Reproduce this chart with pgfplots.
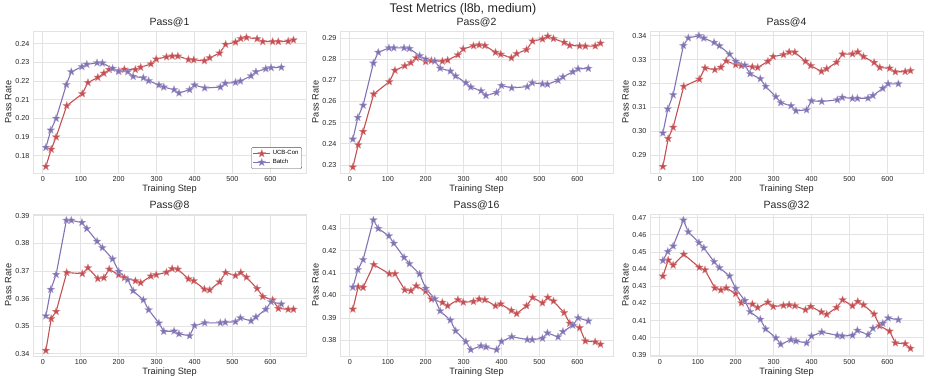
\documentclass[border=0pt]{standalone}
\usepackage{pgfplots}
\pgfplotsset{compat=1.18}
\usepackage{fontspec}
\setmainfont{Liberation Sans}
\definecolor{ucb}{HTML}{C44E52}
\definecolor{bat}{HTML}{8172B3}
\definecolor{gridc}{HTML}{E3E3E3}
\definecolor{txt}{HTML}{262626}

% filled five-pointed star
\pgfdeclareplotmark{fstar}{%
  \pgfpathmoveto{\pgfpointpolar{90}{\pgfplotmarksize}}%
  \pgfpathlineto{\pgfpointpolar{126}{0.42\pgfplotmarksize}}%
  \pgfpathlineto{\pgfpointpolar{162}{\pgfplotmarksize}}%
  \pgfpathlineto{\pgfpointpolar{198}{0.42\pgfplotmarksize}}%
  \pgfpathlineto{\pgfpointpolar{234}{\pgfplotmarksize}}%
  \pgfpathlineto{\pgfpointpolar{270}{0.42\pgfplotmarksize}}%
  \pgfpathlineto{\pgfpointpolar{306}{\pgfplotmarksize}}%
  \pgfpathlineto{\pgfpointpolar{342}{0.42\pgfplotmarksize}}%
  \pgfpathlineto{\pgfpointpolar{18}{\pgfplotmarksize}}%
  \pgfpathlineto{\pgfpointpolar{54}{0.42\pgfplotmarksize}}%
  \pgfpathclose
  \pgfusepathqfillstroke}

\pgfplotsset{
  panel/.style={
    scale only axis, width=273pt, height=142pt,
    xmin=-26, xmax=694, xtick={0,100,...,600},
    grid=major, major grid style={gridc, line width=0.8pt},
    axis line style={gridc, line width=0.8pt},
    tick style={draw=none},
    tick label style={font=\fontsize{7.2}{8}\selectfont, text=txt},
    /pgf/number format/assume math mode=true,
    yticklabel style={/pgf/number format/.cd, fixed, fixed zerofill, precision=2},
    label style={font=\fontsize{9.2}{10}\selectfont, text=txt},
    xlabel={Training Step}, ylabel={Pass Rate},
    xlabel style={yshift=4pt}, ylabel style={yshift=-3pt},
    title style={font=\fontsize{10.5}{12}\selectfont, text=txt, yshift=-5pt},
    legend style={font=\fontsize{6}{7}\selectfont, draw=black!70, rounded corners=1pt,
      at={(0.985,0.03)}, anchor=south east, inner sep=1.2pt, row sep=-1pt},
    legend cell align=left,
  },
  ucbline/.style={ucb, line width=1.1pt, mark=fstar, mark size=4.1pt,
    mark options={fill=ucb, draw=ucb!60, line width=0.3pt}},
  batline/.style={bat, line width=1.1pt, mark=fstar, mark size=4.1pt,
    mark options={fill=bat, draw=bat!60, line width=0.3pt}},
}

\begin{document}
\begin{tikzpicture}
\useasboundingbox (0pt,0pt) rectangle (927pt,382pt);
\node[font=\fontsize{12.5}{14}\selectfont, text=txt] at (463pt,373pt) {Test Metrics (l8b, medium)};

% Pass@1
\begin{axis}[panel, at={(33pt,209pt)}, anchor=south west, title={Pass@1},
  ymin=0.1707, ymax=0.2469, ytick={0.18,0.19,...,0.245}]
\addplot[ucbline] coordinates {(8,0.1742) (22,0.1834) (35,0.190) (63,0.2068) (104,0.2132) (119,0.2192) (145,0.222) (161,0.2242) (175,0.2262) (200,0.2255) (215,0.2263) (244,0.2262) (258,0.2274) (285,0.2292) (299,0.2318) (326,0.233) (341,0.2334) (356,0.2334) (384,0.2316) (398,0.2314) (426,0.2309) (440,0.2325) (466,0.235) (482,0.2397) (508,0.2409) (522,0.2428) (537,0.2434) (565,0.2427) (580,0.2412) (606,0.2412) (621,0.2412) (647,0.2414) (661,0.2421)};
\addlegendentry{UCB-Con}
\addplot[batline] coordinates {(8,0.1844) (21,0.1937) (35,0.200) (62,0.2181) (75,0.2250) (103,0.2277) (116,0.229) (143,0.2298) (157,0.2297) (184,0.2268) (200,0.2252) (224,0.2250) (238,0.2225) (265,0.2218) (279,0.2202) (306,0.2179) (319,0.2168) (346,0.2154) (359,0.2136) (387,0.2154) (400,0.2179) (427,0.2163) (468,0.2168) (481,0.2188) (508,0.2193) (521,0.220) (549,0.2228) (562,0.225) (588,0.2266) (602,0.2272) (629,0.2274)};
\addlegendentry{Batch}
\end{axis}

% Pass@2
\begin{axis}[panel, at={(340pt,209pt)}, anchor=south west, title={Pass@2},
  ymin=0.2262, ymax=0.2933, ytick={0.23,0.24,...,0.295}]
\addplot[ucbline] coordinates {(8,0.2290) (22,0.2395) (35,0.2458) (63,0.2635) (104,0.2693) (119,0.2747) (145,0.2768) (161,0.2783) (175,0.2806) (200,0.2788) (215,0.2793) (244,0.279) (258,0.2795) (285,0.282) (299,0.2848) (326,0.2863) (341,0.2867) (356,0.2864) (384,0.2832) (398,0.2823) (426,0.2806) (440,0.2826) (466,0.2845) (482,0.2885) (508,0.2895) (522,0.2908) (537,0.2897) (565,0.2879) (580,0.2865) (606,0.2862) (621,0.2861) (647,0.2862) (661,0.2875)};
\addplot[batline] coordinates {(8,0.2422) (21,0.2524) (35,0.2582) (62,0.2781) (75,0.2832) (103,0.2853) (116,0.2853) (143,0.2853) (157,0.2850) (184,0.2816) (200,0.280) (224,0.2791) (238,0.2757) (265,0.2743) (279,0.272) (306,0.2688) (319,0.2668) (346,0.2650) (359,0.2628) (387,0.2642) (400,0.2675) (427,0.2664) (468,0.267) (481,0.2688) (508,0.2683) (521,0.2681) (549,0.2700) (562,0.2716) (588,0.274) (602,0.2754) (629,0.2756)};
\end{axis}

% Pass@4
\begin{axis}[panel, at={(650pt,209pt)}, anchor=south west, title={Pass@4},
  ymin=0.2826, ymax=0.342, ytick={0.29,0.30,...,0.345}]
\addplot[ucbline] coordinates {(8,0.2853) (22,0.2970) (35,0.3017) (63,0.3188) (104,0.3218) (119,0.3265) (145,0.3258) (161,0.3268) (175,0.3295) (200,0.3279) (215,0.3275) (244,0.327) (258,0.3267) (285,0.3293) (299,0.3313) (326,0.3321) (341,0.3332) (356,0.3331) (384,0.3293) (398,0.3275) (426,0.3251) (440,0.3262) (466,0.3289) (482,0.3323) (508,0.3324) (522,0.3332) (537,0.3313) (565,0.3288) (580,0.3267) (606,0.3264) (621,0.3249) (647,0.325) (661,0.3254)};
\addplot[batline] coordinates {(8,0.2993) (21,0.3094) (35,0.3153) (62,0.3359) (75,0.3391) (103,0.340) (116,0.339) (143,0.3372) (157,0.3358) (184,0.3323) (200,0.3293) (224,0.3277) (238,0.3241) (265,0.322) (279,0.3188) (306,0.3145) (319,0.312) (346,0.3107) (359,0.3086) (387,0.309) (400,0.3128) (427,0.3125) (468,0.3132) (481,0.3142) (508,0.3138) (521,0.3138) (549,0.3139) (562,0.315) (588,0.318) (602,0.3199) (629,0.3199)};
\end{axis}

% Pass@8
\begin{axis}[panel, at={(33pt,26pt)}, anchor=south west, title={Pass@8},
  ymin=0.3392, ymax=0.3906, ytick={0.34,0.35,...,0.395}]
\addplot[ucbline] coordinates {(8,0.3412) (22,0.3527) (35,0.3553) (63,0.3694) (104,0.369) (119,0.3711) (145,0.3672) (161,0.3675) (175,0.3706) (200,0.3686) (215,0.3675) (244,0.3664) (258,0.3657) (285,0.3681) (299,0.3686) (326,0.3695) (341,0.3708) (356,0.3706) (384,0.3671) (398,0.3664) (426,0.3634) (440,0.3631) (466,0.366) (482,0.3694) (508,0.3683) (522,0.3694) (537,0.3677) (565,0.3636) (580,0.3607) (606,0.3595) (621,0.3564) (647,0.3561) (661,0.3561)};
\addplot[batline] coordinates {(8,0.3537) (21,0.3633) (35,0.3687) (62,0.3883) (75,0.3883) (103,0.3875) (116,0.3853) (143,0.3807) (157,0.3784) (184,0.3743) (200,0.3698) (224,0.3668) (238,0.3628) (265,0.3595) (279,0.3559) (306,0.3511) (319,0.3481) (346,0.3482) (359,0.3472) (387,0.3465) (400,0.3502) (427,0.3512) (468,0.3512) (481,0.3514) (508,0.3516) (521,0.353) (549,0.3519) (562,0.3533) (588,0.3561) (602,0.3588) (629,0.358)};
\end{axis}

% Pass@16
\begin{axis}[panel, at={(340pt,26pt)}, anchor=south west, title={Pass@16},
  ymin=0.373, ymax=0.4364, ytick={0.38,0.39,...,0.435}]
\addplot[ucbline] coordinates {(8,0.3939) (22,0.4039) (35,0.4036) (63,0.4138) (104,0.4097) (119,0.4097) (145,0.4025) (161,0.4021) (175,0.4043) (200,0.4019) (215,0.3984) (244,0.3969) (258,0.3954) (285,0.3981) (299,0.397) (326,0.3973) (341,0.3984) (356,0.3981) (384,0.3954) (398,0.3962) (426,0.3933) (440,0.3919) (466,0.3954) (482,0.3991) (508,0.3967) (522,0.3991) (537,0.3975) (565,0.3923) (580,0.3876) (606,0.3856) (621,0.3797) (647,0.3793) (661,0.3782)};
\addplot[batline] coordinates {(8,0.4037) (21,0.4115) (35,0.416) (62,0.4337) (75,0.4299) (103,0.4266) (116,0.4233) (143,0.417) (157,0.4142) (184,0.4096) (200,0.4032) (224,0.3985) (238,0.3931) (265,0.389) (279,0.3842) (306,0.3794) (319,0.3758) (346,0.3775) (359,0.377) (387,0.3758) (400,0.3795) (427,0.3816) (468,0.3803) (481,0.3803) (508,0.3809) (521,0.3833) (549,0.3815) (562,0.3839) (588,0.3867) (602,0.39) (629,0.3886)};
\end{axis}

% Pass@32
\begin{axis}[panel, at={(650pt,26pt)}, anchor=south west, title={Pass@32},
  ymin=0.3894, ymax=0.4721, ytick={0.39,0.40,...,0.475}]
\addplot[ucbline] coordinates {(8,0.4359) (22,0.4452) (35,0.4423) (63,0.4486) (104,0.441) (119,0.4395) (145,0.429) (161,0.4278) (175,0.429) (200,0.4257) (215,0.4203) (244,0.4196) (258,0.4176) (285,0.4207) (299,0.4182) (326,0.4188) (341,0.4192) (356,0.4186) (384,0.4163) (398,0.4182) (426,0.415) (440,0.4136) (466,0.4176) (482,0.4221) (508,0.4186) (522,0.4211) (537,0.4192) (565,0.4138) (580,0.4069) (606,0.4038) (621,0.3970) (647,0.3965) (661,0.3938)};
\addplot[batline] coordinates {(8,0.445) (21,0.4502) (35,0.4534) (62,0.4685) (75,0.4617) (103,0.4554) (116,0.4523) (143,0.4443) (157,0.4408) (184,0.436) (200,0.4287) (224,0.4217) (238,0.4152) (265,0.4107) (279,0.4051) (306,0.3999) (319,0.3962) (346,0.3989) (359,0.3981) (387,0.397) (400,0.401) (427,0.4033) (468,0.4014) (481,0.401) (508,0.4014) (521,0.4043) (549,0.4018) (562,0.4055) (588,0.4084) (602,0.4115) (629,0.4105)};
\end{axis}
\end{tikzpicture}
\end{document}
